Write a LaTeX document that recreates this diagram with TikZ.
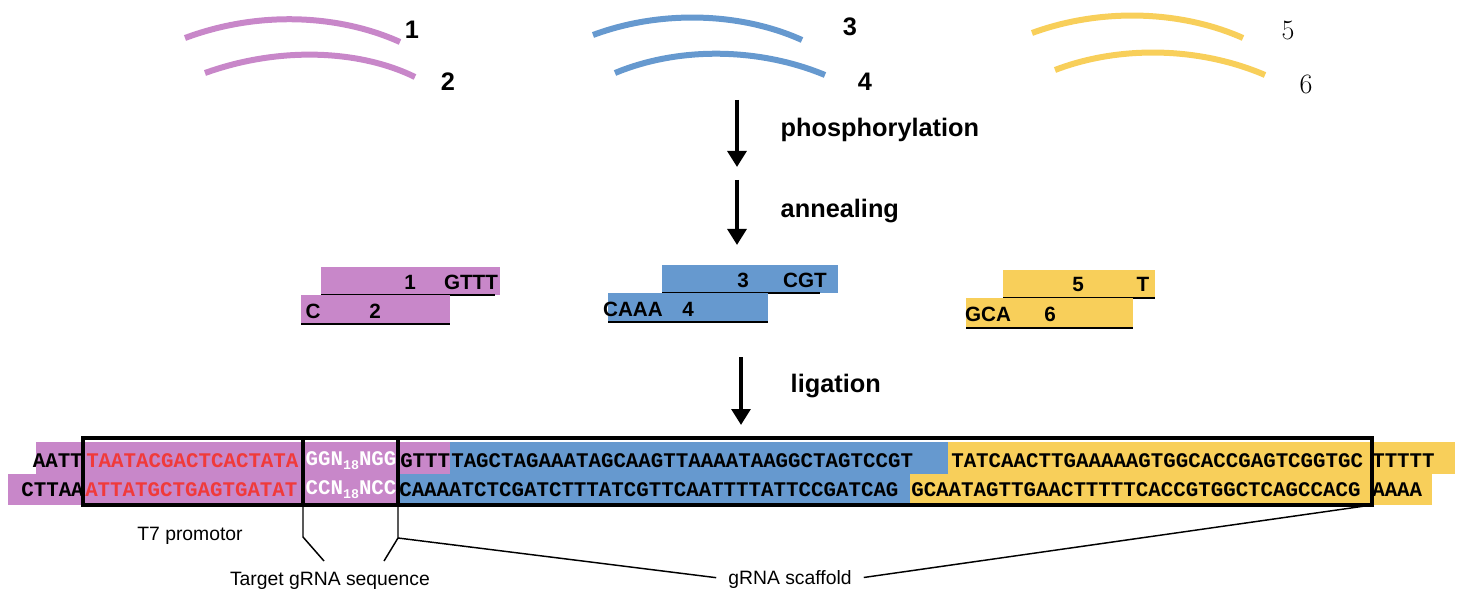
\documentclass[tikz,border=0pt]{standalone}
\usepackage{fontspec}
\setmainfont{Liberation Sans}
\newfontfamily\seqfont{Liberation Mono}
\newfontfamily\numfont{Latin Modern Roman}
\definecolor{frgA}{HTML}{C887C9}
\definecolor{frgB}{HTML}{6699CF}
\definecolor{frgC}{HTML}{F8CF5A}
\definecolor{prom}{HTML}{F03A3A}
\usetikzlibrary{arrows.meta}
\tikzset{
  oligo/.style={line width=4.5pt, line cap=butt},
  lbl/.style={font=\bfseries\fontsize{19}{19}\selectfont},
  seq/.style={font=\seqfont\bfseries\fontsize{15.6}{16}\selectfont, inner sep=0pt},
  procarrow/.style={line width=3pt, -{Triangle[length=12pt,width=14pt]}},
  frame/.style={line width=2.6pt},
  note/.style={font=\fontsize{14.5}{14.5}\selectfont, inner sep=1pt},
  lead/.style={line width=1.1pt},
}
\newcommand{\sub}[1]{\raisebox{-3pt}{\fontsize{10}{10}\selectfont #1}}
\begin{document}
\begin{tikzpicture}[x=0.75pt, y=-0.75pt]
\useasboundingbox (0,0) rectangle (1461,606);
% oligos {{{
\draw[oligo, frgA] (185,38) .. controls (260,10) and (340,15) .. (400,42);
\draw[oligo, frgA] (205,73) .. controls (280,46) and (360,50) .. (415,77);
\draw[oligo, frgB] (593,35) .. controls (660,10) and (740,12) .. (802,40);
\draw[oligo, frgB] (615,73) .. controls (680,46) and (760,48) .. (825,75);
\draw[oligo, frgC] (1032,33) .. controls (1100,8) and (1180,10) .. (1243,38);
\draw[oligo, frgC] (1055,70) .. controls (1120,45) and (1200,47) .. (1265,75);
\node[lbl] (o1) at (412,30) {1};
\node[lbl] (o2) at (448,82) {2};
\node[lbl] (o3) at (850,27) {3};
\node[lbl] (o4) at (865,82) {4};
\node[font=\numfont\fontsize{21}{21}\selectfont] (o5) at (1288,30) {5};
\node[font=\numfont\fontsize{21}{21}\selectfont] (o6) at (1306,84) {6};
% }}}
% steps {{{
\coordinate (s1a) at (737,100); \coordinate (s1b) at (737,167);
\coordinate (s2a) at (737,180); \coordinate (s2b) at (737,245);
\coordinate (s3a) at (741,357); \coordinate (s3b) at (741,425);
\draw[procarrow] (s1a) -- (s1b);
\draw[procarrow] (s2a) -- (s2b);
\draw[procarrow] (s3a) -- (s3b);
\node[lbl, anchor=west] (phos) at (776,130) {phosphorylation};
\node[lbl, anchor=west] (anne) at (776,211) {annealing};
\node[lbl, anchor=west] (liga) at (786,386) {ligation};
% }}}
% duplexes {{{
\tikzset{dup/.style={lbl, font=\bfseries\fontsize{15.5}{15.5}\selectfont}}
\fill[frgA] (321,267) rectangle (500,295); \draw[thick] (321,295) -- (495,295);
\fill[frgA] (301,295) rectangle (450,324); \draw[thick] (301,324) -- (450,324);
\node[dup] (d1) at (410,282) {1}; \node[dup] (d1e) at (471,282) {GTTT};
\node[dup] (d2) at (313,311) {C}; \node[dup] (d2n) at (375,311) {2};
\fill[frgB] (662,265) rectangle (838,293); \draw[thick] (662,293) -- (820,293);
\fill[frgB] (608,293) rectangle (768,322); \draw[thick] (608,322) -- (768,322);
\node[dup] (d3) at (743,280) {3}; \node[dup] (d3e) at (805,280) {CGT};
\node[dup] (d4e) at (633,309) {CAAA}; \node[dup] (d4) at (688,309) {4};
\fill[frgC] (1003,270) rectangle (1155,298); \draw[thick] (1003,298) -- (1155,298);
\fill[frgC] (966,298) rectangle (1133,328); \draw[thick] (966,328) -- (1133,328);
\node[dup] (d5) at (1078,284) {5}; \node[dup] (d5e) at (1143,284) {T};
\node[dup] (d6e) at (988,314) {GCA}; \node[dup] (d6) at (1050,314) {6};
% }}}
% ligated product {{{
\fill[frgA] (36,442) rectangle (450,474);
\fill[frgB] (450,442) rectangle (948,474);
\fill[frgC] (948,442) rectangle (1455,474);
\fill[frgA] (8,474) rectangle (398,505);
\fill[frgB] (398,474) rectangle (910,505);
\fill[frgC] (910,474) rectangle (1432,505);
\node[seq, anchor=east] (t0) at (83,461) {AATT};
\node[seq, anchor=west, text=prom] (t1) at (86,461) {TAATACGACTCACTATA};
\node[seq, anchor=center, text=white] (t2) at (351,461) {GGN\sub{18}NGG};
\node[seq, anchor=west] (t3) at (400,461) {GTTT};
\node[seq, anchor=west] (t4) at (451,461) {TAGCTAGAAATAGCAAGTTAAAATAAGGCTAGTCCGT};
\node[seq, anchor=west] (t5) at (951,461) {TATCAACTTGAAAAAGTGGCACCGAGTCGGTGC};
\node[seq, anchor=west] (t6) at (1372,461) {TTTTT};
\node[seq, anchor=east] (b0) at (84,490) {CTTAA};
\node[seq, anchor=west, text=prom] (b1) at (85,490) {ATTATGCTGAGTGATAT};
\node[seq, anchor=center, text=white] (b2) at (351,490) {CCN\sub{18}NCC};
\node[seq, anchor=west] (b3) at (399,490) {CAAAATCTCGATCTTTATCGTTCAATTTTATTCCGATCAG};
\node[seq, anchor=west] (b4) at (911,490) {GCAATAGTTGAACTTTTTCACCGTGGCTCAGCCACG};
\node[seq, anchor=west] (b5) at (1372,490) {AAAA};
\draw[frame] (83,438) rectangle (303,505);
\draw[frame] (303,438) rectangle (398,505);
\draw[frame] (398,438) rectangle (1372,505);
% }}}
% labels {{{
\node[note] (t7) at (190,536) {T7 promotor};
\node[note] (tgt) at (330,581) {Target gRNA sequence};
\node[note] (scf) at (790,579) {gRNA scaffold};
\draw[lead] (303,505) -- (303,537) -- (324,561);
\draw[lead] (398,505) -- (398,538) -- (384,561);
\draw[lead, shorten >=8pt] (398,538) -- (scf.west);
\draw[lead, shorten <=8pt] (scf.east) -- (1372,505);
% }}}
\end{tikzpicture}
\end{document}
